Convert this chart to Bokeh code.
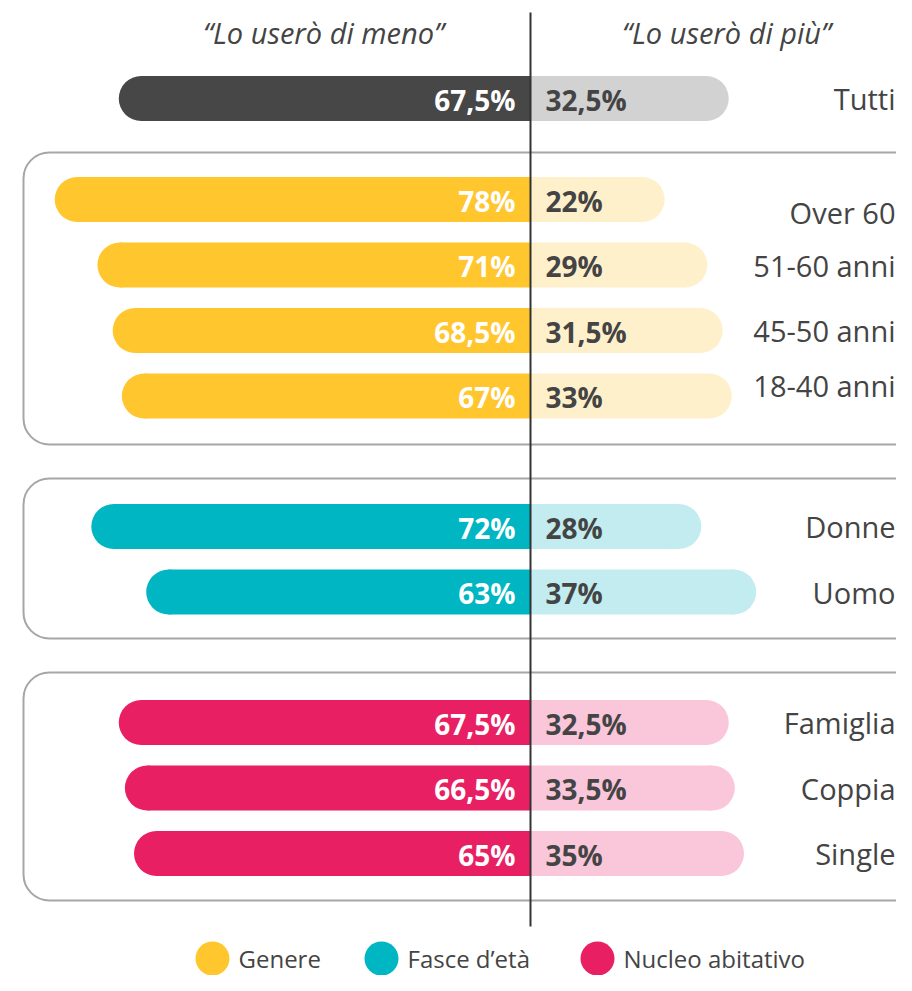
from bokeh.plotting import figure
from bokeh.models import Range1d, BoxAnnotation
from bokeh.core.properties import value
from bokeh.embed import file_html
from bokeh.resources import INLINE

# ---- data ----
categories = ["Tutti", "Over 60", "51-60 anni", "45-50 anni", "18-40 anni",
              "Donne", "Uomo", "Famiglia", "Coppia", "Single"]
meno = [67.5, 78, 71, 68.5, 67, 72, 63, 67.5, 66.5, 65]
piu = [32.5, 22, 29, 31.5, 33, 28, 37, 32.5, 33.5, 35]
row_group = [0, 1, 1, 1, 1, 2, 2, 3, 3, 3]
legend_labels = ["Genere", "Fasce d\u2019et\u00e0", "Nucleo abitativo"]
header_left = "\u201cLo user\u00f2 di meno\u201d"
header_right = "\u201cLo user\u00f2 di pi\u00f9\u201d"

# ---- style ----
dark_cols = ["#474747", "#FFC62E", "#00B6C3", "#E91F63"]
light_cols = ["#D2D2D2", "#FFF0CC", "#C2ECEF", "#F9C6DA"]
FONT = value("Open Sans")
TXT = "#444444"

W, H = 896, 975
CX = 530.0        # pixel of the centre line
S = 6.1           # pixels per percent
def px2x(px):
    return (px - CX) / S

# row layout (pixel rows)
group_start = {0: 98, 1: 199, 2: 526, 3: 722}
step = 65.5
row_y = []
count = {}
for g in row_group:
    k = count.get(g, 0)
    row_y.append(group_start[g] + k * step)
    count[g] = k + 1
label_nudge = [0, 13, 0, 0, -11, 0, 0, 0, 0, 0]

p = figure(width=W, height=H, output_backend="svg", toolbar_location=None,
           x_range=Range1d(px2x(0), px2x(W)), y_range=Range1d(H, 0),
           min_border=0, outline_line_color=None)
p.axis.visible = False
p.grid.visible = False
p.background_fill_color = "white"
p.border_fill_color = "white"

# group boxes
boxes = [(152, 444), (478, 638), (672, 900)]
for top, bot in boxes:
    p.add_layout(BoxAnnotation(left=px2x(23), right=px2x(960), top=top, bottom=bot,
                               fill_color=None, line_color="#A6A6A6", line_alpha=1.0,
                               line_width=2, border_radius=26, level="underlay"))

BAR_H = 45
r = (BAR_H / 2) / S
dc = [dark_cols[g] for g in row_group]
lc = [light_cols[g] for g in row_group]

# left bars (rounded left end)
p.hbar(y=row_y, left=[-v + r for v in meno], right=0, height=BAR_H, fill_color=dc, line_color=None)
p.scatter(x=[-v + r for v in meno], y=row_y, size=BAR_H, marker="circle", fill_color=dc, line_color=None)
# right bars (rounded right end)
p.hbar(y=row_y, left=0, right=[v - r for v in piu], height=BAR_H, fill_color=lc, line_color=None)
p.scatter(x=[v - r for v in piu], y=row_y, size=BAR_H, marker="circle", fill_color=lc, line_color=None)

def fmt(v):
    return ("%g" % v).replace(".", ",") + "%"

p.text(x=[px2x(515)] * len(meno), y=[y + 1 for y in row_y], text=[fmt(v) for v in meno],
       text_align="right", text_baseline="middle", text_color="white",
       text_font=FONT, text_font_style="bold", text_font_size="28px")
p.text(x=[px2x(545)] * len(piu), y=[y + 1 for y in row_y], text=[fmt(v) for v in piu],
       text_align="left", text_baseline="middle", text_color=TXT,
       text_font=FONT, text_font_style="bold", text_font_size="28px")

# category labels
p.text(x=[px2x(895)] * len(categories), y=[y + n for y, n in zip(row_y, label_nudge)],
       text=categories, text_align="right", text_baseline="middle", text_color=TXT,
       text_font=FONT, text_font_size="29px")

# headers
p.text(x=[px2x(323), px2x(726)], y=[32, 32], text=[header_left, header_right],
       text_align="center", text_baseline="middle", text_color=TXT,
       text_font=FONT, text_font_style="italic", text_font_size="29px")

# centre line
p.segment(x0=[0], y0=[12], x1=[0], y1=[926], line_color="#333333", line_width=2)

# legend
leg_cx = [212, 381, 597]
leg_y = 958
p.scatter(x=[px2x(c) for c in leg_cx], y=[leg_y] * 3, size=34, marker="circle",
          fill_color=dark_cols[1:], line_color=None)
p.text(x=[px2x(c + 26) for c in leg_cx], y=[leg_y] * 3, text=legend_labels,
       text_align="left", text_baseline="middle", text_color=TXT,
       text_font=FONT, text_font_size="24px")

open("out.html", "w").write(file_html(p, INLINE))
